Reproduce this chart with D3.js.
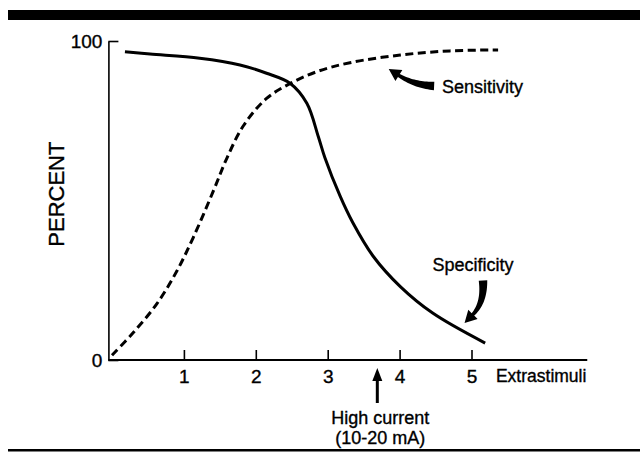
<!DOCTYPE html>
<html>
<head>
<meta charset="utf-8">
<script src="https://cdn.jsdelivr.net/npm/d3@7"></script>
<style>
  body { margin: 0; background: #fff; }
  svg { display: block; }
  text { font-family: "Liberation Sans", Arial, sans-serif; fill: #000; stroke: #000; stroke-width: 0.35px; }
</style>
</head>
<body>
<div class="chart"></div>
<script>
// Curves (x = number of extrastimuli, y = percent)
const specificityX = [0.18, 0.53, 1.22, 1.78, 2.15, 2.48, 2.71, 2.87, 2.96, 3.17, 3.35, 3.63, 4.01, 4.46, 5.19];
const specificityY = [96.6, 95.9, 94.6, 92.5, 89.9, 86.7, 80.5, 70.0, 63.5, 51.5, 43.0, 32.6, 23.0, 14.7, 5.3];

const sensitivityX = [0.0, 0.30, 0.62, 0.90, 1.13, 1.41, 1.60, 1.83, 2.15, 2.48, 2.85, 3.31, 4.01, 4.70, 5.37];
const sensitivityY = [1.5, 8.7, 17.5, 27.8, 38.4, 53.0, 63.4, 73.5, 82.0, 86.7, 90.4, 93.2, 95.6, 96.9, 97.2];

const xTicks = [1, 2, 3, 4, 5];
const yTicks = [0, 100];

const width = 640;
const height = 458;

const svg = d3.select(".chart")
    .append("svg")
    .attr("width", width)
    .attr("height", height);

// frame rules top and bottom
svg.append("rect").attr("x", 8).attr("y", 10).attr("width", 632).attr("height", 10).attr("fill", "#000");
svg.append("rect").attr("x", 8).attr("y", 449).attr("width", 632).attr("height", 2.5).attr("fill", "#000");

const x = d3.scaleLinear().domain([0, 6]).range([112, 543.4]);
const y = d3.scaleLinear().domain([0, 100]).range([360, 41]);

// x axis: line, ticks pointing up
svg.append("line")
    .attr("x1", x(-0.05)).attr("x2", x(6.61))
    .attr("y1", y(0)).attr("y2", y(0))
    .attr("stroke", "#000").attr("stroke-width", 2);

const xAxis = d3.axisBottom(x)
    .tickValues(xTicks)
    .tickSizeInner(-10)
    .tickSizeOuter(0)
    .tickPadding(10)
    .tickFormat(d3.format("d"));

svg.append("g")
    .attr("transform", `translate(0,${y(0)})`)
    .call(xAxis)
    .call(g => g.select(".domain").remove())
    .call(g => g.selectAll(".tick line").attr("stroke", "#000").attr("stroke-width", 1.6))
    .call(g => g.selectAll(".tick text")
        .attr("font-family", "Liberation Sans, Arial, sans-serif")
        .attr("font-size", 19));

// y axis
const yAxis = d3.axisLeft(y)
    .tickValues(yTicks)
    .tickSizeInner(-10)
    .tickSizeOuter(0)
    .tickPadding(6)
    .tickFormat(d3.format("d"));

svg.append("g")
    .attr("transform", `translate(${x(-0.05)},0)`)
    .call(yAxis)
    .call(g => g.select(".domain").attr("stroke", "#000").attr("stroke-width", 1.6))
    .call(g => g.selectAll(".tick line").attr("stroke", "#000").attr("stroke-width", 1.6))
    .call(g => g.selectAll(".tick text")
        .attr("font-family", "Liberation Sans, Arial, sans-serif")
        .attr("font-size", 19));

svg.append("text")
    .attr("transform", `translate(64,${y(52)}) rotate(-90)`)
    .attr("text-anchor", "middle")
    .attr("font-size", 22)
    .text("PERCENT");

svg.append("text")
    .attr("x", x(5.34)).attr("y", y(0) + 22)
    .attr("font-size", 17.5)
    .text("Extrastimuli");

// curves
const line = d3.line()
    .x(d => x(d[0]))
    .y(d => y(d[1]))
    .curve(d3.curveCatmullRom.alpha(0.5));

svg.append("path")
    .attr("d", line(d3.zip(specificityX, specificityY)))
    .attr("fill", "none")
    .attr("stroke", "#000")
    .attr("stroke-width", 3);

svg.append("path")
    .attr("d", line(d3.zip(sensitivityX, sensitivityY)))
    .attr("fill", "none")
    .attr("stroke", "#000")
    .attr("stroke-width", 3)
    .attr("stroke-dasharray", "8,4.5");

// tapered curved arrow: quadratic from tail p0 via c to shaft end p1, head beyond
function curvedArrow(p0, c, p1, w0, w1, headW, headL) {
    const n = 20;
    const left = [], right = [];
    for (let i = 0; i <= n; i++) {
        const t = i / n;
        const px = (1 - t) * (1 - t) * p0[0] + 2 * (1 - t) * t * c[0] + t * t * p1[0];
        const py = (1 - t) * (1 - t) * p0[1] + 2 * (1 - t) * t * c[1] + t * t * p1[1];
        const dx = 2 * (1 - t) * (c[0] - p0[0]) + 2 * t * (p1[0] - c[0]);
        const dy = 2 * (1 - t) * (c[1] - p0[1]) + 2 * t * (p1[1] - c[1]);
        const len = Math.hypot(dx, dy);
        const nx = -dy / len, ny = dx / len;
        const w = (w0 + (w1 - w0) * t) / 2;
        left.push([px + nx * w, py + ny * w]);
        right.push([px - nx * w, py - ny * w]);
    }
    const dx = p1[0] - c[0], dy = p1[1] - c[1];
    const len = Math.hypot(dx, dy);
    const ux = dx / len, uy = dy / len;
    const nx = -uy, ny = ux;
    const tip = [p1[0] + ux * headL, p1[1] + uy * headL];
    const hl = [p1[0] + nx * headW / 2, p1[1] + ny * headW / 2];
    const hr = [p1[0] - nx * headW / 2, p1[1] - ny * headW / 2];
    const pts = left.concat([hl, tip, hr], right.reverse());
    return "M" + pts.map(p => p.join(",")).join("L") + "Z";
}

// Sensitivity label + arrow
svg.append("text")
    .attr("x", x(4.59)).attr("y", y(83.7))
    .attr("font-size", 18)
    .text("Sensitivity");

svg.append("path")
    .attr("d", curvedArrow(
        [x(4.48), y(85.9)], [x(4.20), y(86.2)], [x(3.99), y(89.2)],
        8.5, 3.5, 13, 12))
    .attr("fill", "#000");

// Specificity label + arrow
svg.append("text")
    .attr("x", x(5.02)).attr("y", y(27.9))
    .attr("text-anchor", "middle")
    .attr("font-size", 18)
    .text("Specificity");

svg.append("path")
    .attr("d", curvedArrow(
        [x(5.16), y(24.9)], [x(5.18), y(18.0)], [x(5.02), y(14.3)],
        8.5, 3.5, 13, 12))
    .attr("fill", "#000");

// High current marker below the axis
const hc = x(3.69);
svg.append("line")
    .attr("x1", hc).attr("x2", hc)
    .attr("y1", y(0) + 19).attr("y2", y(0) + 43)
    .attr("stroke", "#000").attr("stroke-width", 3);
svg.append("path")
    .attr("d", `M${hc},${y(0) + 8}L${hc - 5},${y(0) + 21}L${hc + 5},${y(0) + 21}Z`)
    .attr("fill", "#000");

svg.append("text")
    .attr("x", hc + 3).attr("y", 424)
    .attr("text-anchor", "middle")
    .attr("font-size", 18)
    .text("High current");
svg.append("text")
    .attr("x", hc + 3).attr("y", 444)
    .attr("text-anchor", "middle")
    .attr("font-size", 18)
    .text("(10-20 mA)");
</script>
</body>
</html>
